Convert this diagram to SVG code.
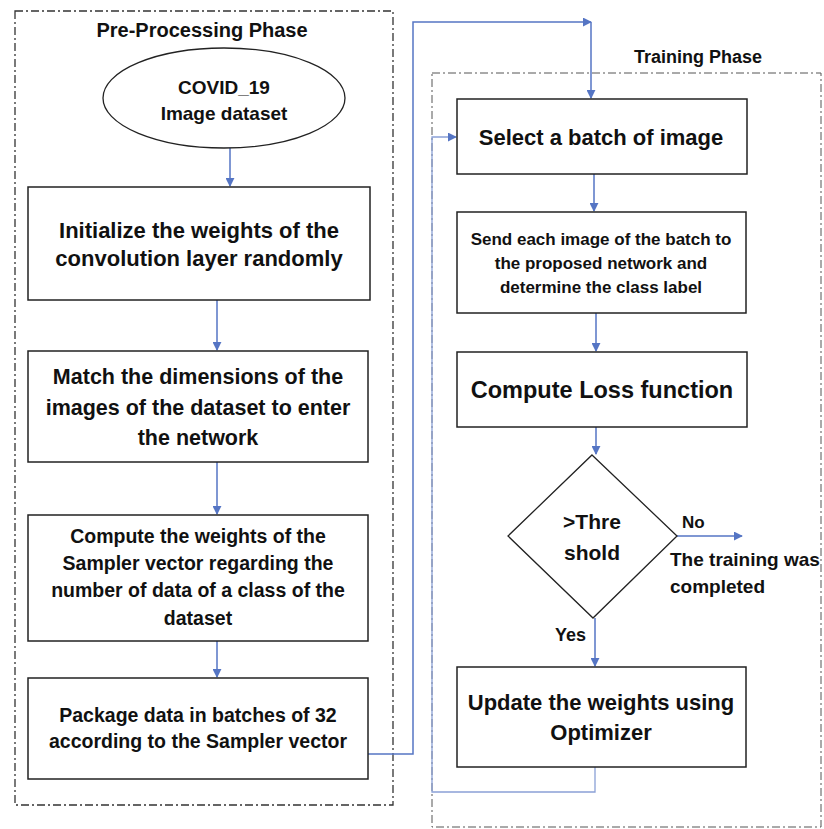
<svg xmlns="http://www.w3.org/2000/svg" width="824" height="829" viewBox="0 0 824 829">
<style>
  text { font-family: "Liberation Sans", Arial, sans-serif; font-weight: bold; fill: #111; text-anchor: middle; }
  .phase { fill: none; stroke: #333; stroke-width: 1.3; stroke-dasharray: 8 3 2 3; }
  .phase2 { fill: none; stroke: #555; stroke-width: 1; stroke-dasharray: 8 3 2 3; }
  .box { fill: #fff; stroke: #222; stroke-width: 1.5; }
  .conn { fill: none; stroke: #5575c4; stroke-width: 1.5; }
  .loop { fill: none; stroke: #8aa0d6; stroke-width: 1.3; }
  .lbl { text-anchor: start; }
</style>
<defs>
  <marker id="ah" viewBox="0 0 10 10" refX="9" refY="5" markerWidth="9" markerHeight="9" markerUnits="userSpaceOnUse" orient="auto">
    <path d="M0,0 L10,5 L0,10 z" fill="#5575c4"/>
  </marker>
</defs>
<rect width="824" height="829" fill="#fff"/>

<g id="preprocessing-phase">
  <rect class="phase" x="15" y="11" width="378" height="794"/>
  <text x="202" y="37" font-size="20">Pre-Processing Phase</text>
</g>
<g id="training-phase">
  <rect class="phase2" x="432" y="73" width="389" height="754"/>
  <text x="698" y="63" font-size="18">Training Phase</text>
</g>

<g id="connectors">
  <path class="conn" d="M230,148 V186" marker-end="url(#ah)"/>
  <path class="conn" d="M217,300 V350" marker-end="url(#ah)"/>
  <path class="conn" d="M217,462 V514" marker-end="url(#ah)"/>
  <path class="conn" d="M217,641 V677" marker-end="url(#ah)"/>
  <path class="conn" d="M368,754 H413 V22 H591" marker-end="url(#ah)"/>
  <path class="conn" d="M591,22 V98" marker-end="url(#ah)"/>
  <path class="conn" d="M594,174 V211" marker-end="url(#ah)"/>
  <path class="conn" d="M596,313 V351" marker-end="url(#ah)"/>
  <path class="conn" d="M596,427 V454" marker-end="url(#ah)"/>
  <path class="conn" d="M677,536 H742" marker-end="url(#ah)"/>
  <path class="conn" d="M595,618 V666" marker-end="url(#ah)"/>
  <path class="loop" d="M595,767 V792 H432 V137 H456" marker-end="url(#ah)"/>
</g>

<g id="dataset">
  <ellipse cx="224" cy="98" rx="121" ry="50" fill="#fff" stroke="#222" stroke-width="1.3"/>
  <text x="224" y="94" font-size="19">COVID_19</text>
  <text x="224" y="120" font-size="19">Image dataset</text>
</g>

<g id="init-weights">
  <rect class="box" x="28" y="187" width="342" height="113"/>
  <text x="199" y="238" font-size="22">Initialize the weights of the</text>
  <text x="199" y="266" font-size="22">convolution layer randomly</text>
</g>

<g id="match-dims">
  <rect class="box" x="28" y="351" width="340" height="111"/>
  <text x="198" y="384" font-size="21.5">Match the dimensions of the</text>
  <text x="198" y="415" font-size="21.5">images of the dataset to enter</text>
  <text x="198" y="445" font-size="21.5">the network</text>
</g>

<g id="compute-sampler">
  <rect class="box" x="28" y="515" width="340" height="126"/>
  <text x="198" y="543" font-size="19.5">Compute the weights of the</text>
  <text x="198" y="570" font-size="19.5">Sampler vector regarding the</text>
  <text x="198" y="597" font-size="19.5">number of data of a class of the</text>
  <text x="198" y="625" font-size="19.5">dataset</text>
</g>

<g id="package-data">
  <rect class="box" x="28" y="678" width="340" height="101"/>
  <text x="198" y="722" font-size="19.5">Package data in batches of 32</text>
  <text x="198" y="748" font-size="19.5">according to the Sampler vector</text>
</g>

<g id="select-batch">
  <rect class="box" x="457" y="99" width="290" height="75"/>
  <text x="601" y="145" font-size="22">Select a batch of image</text>
</g>

<g id="send-image">
  <rect class="box" x="457" y="212" width="289" height="101"/>
  <text x="601" y="245" font-size="17">Send each image of the batch to</text>
  <text x="601" y="269" font-size="17">the proposed network and</text>
  <text x="601" y="293" font-size="17">determine the class label</text>
</g>

<g id="compute-loss">
  <rect class="box" x="457" y="352" width="290" height="75"/>
  <text x="602" y="398" font-size="23.5">Compute Loss function</text>
</g>

<g id="threshold">
  <polygon points="592,455 677,536 593,618 508,536" fill="#fff" stroke="#222" stroke-width="1.3"/>
  <text x="592" y="529" font-size="21">&gt;Thre</text>
  <text x="592" y="560" font-size="21">shold</text>
  <text class="lbl" x="682" y="528" font-size="17">No</text>
  <text class="lbl" x="670" y="566" font-size="19">The training was</text>
  <text class="lbl" x="670" y="593" font-size="19">completed</text>
  <text class="lbl" x="555" y="641" font-size="18">Yes</text>
</g>

<g id="update-weights">
  <rect class="box" x="457" y="667" width="289" height="100"/>
  <text x="601" y="710" font-size="22">Update the weights using</text>
  <text x="601" y="740" font-size="22">Optimizer</text>
</g>
</svg>
